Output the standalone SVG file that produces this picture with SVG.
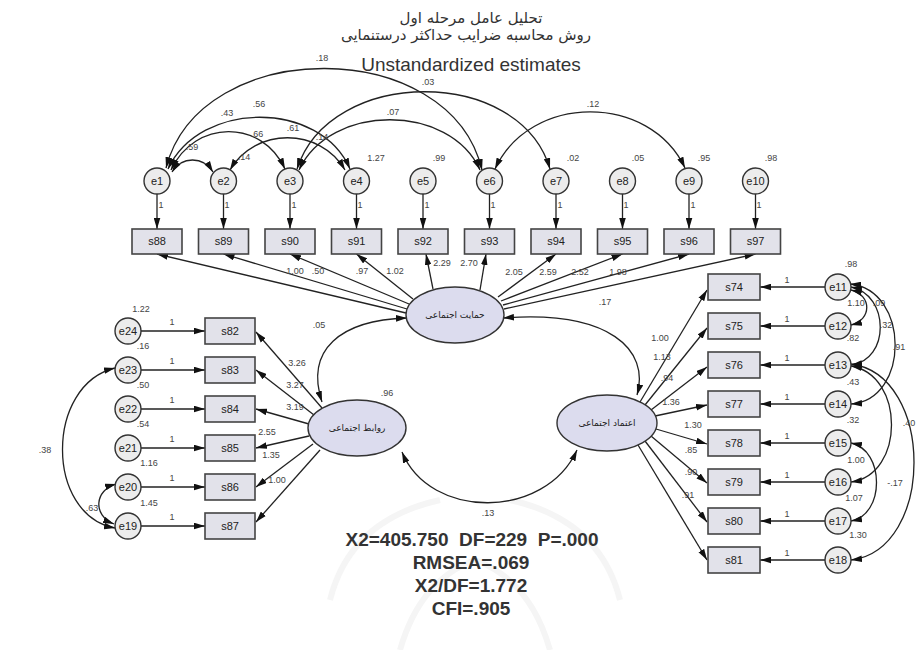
<svg xmlns="http://www.w3.org/2000/svg" width="923" height="650" viewBox="0 0 923 650">
<defs>
<marker id="ah" viewBox="0 0 10 6" refX="10" refY="3" markerWidth="11" markerHeight="7" markerUnits="userSpaceOnUse" orient="auto-start-reverse"><path d="M0,0 L10,3 L0,6 z" fill="#111"/></marker>
</defs>
<style>
.box{fill:#e2e2ea;stroke:#444;stroke-width:1.6}
.err{fill:#ececec;stroke:#333;stroke-width:1.4}
.lat{fill:#dcdcee;stroke:#333;stroke-width:1.4}
.lbl{font-family:"Liberation Sans",Arial,sans-serif;font-size:11px;fill:#222;text-anchor:middle}
.num{font-family:"Liberation Sans",Arial,sans-serif;font-size:9px;fill:#444;text-anchor:middle}
.ar{font-family:"DejaVu Sans","Noto Sans",sans-serif;font-size:9px;fill:#222;text-anchor:middle}
.ln{stroke:#222;stroke-width:1.3;fill:none;marker-end:url(#ah)}
.cv{stroke:#222;stroke-width:1.3;fill:none;marker-start:url(#ah);marker-end:url(#ah)}
.ttl{font-family:"DejaVu Sans","Noto Sans",sans-serif;font-size:15px;fill:#333;text-anchor:middle}
.st{font-family:"Liberation Sans",Arial,sans-serif;font-size:19px;font-weight:bold;fill:#333;text-anchor:middle;white-space:pre}
</style>
<rect width="923" height="650" fill="#fff"/>
<g id="watermark" fill="none" stroke="#f5f5f5" stroke-width="6">
<path d="M330,600 Q350,520 440,500"/><path d="M620,600 Q600,520 510,500"/><path d="M400,650 Q420,580 475,560 Q530,580 550,650"/>
</g>
<g id="title">
<text class="ttl" x="471" y="23">تحلیل عامل مرحله اول</text>
<text class="ttl" x="466" y="40">روش محاسبه ضرایب حداکثر درستنمایی</text>
<text x="471" y="71" font-family="Liberation Sans, Arial, sans-serif" font-size="19" fill="#333" text-anchor="middle">Unstandardized estimates</text>
</g>
<g id="connectors">
<path class="ln" d="M157,194 V229"/><path class="ln" d="M223.5,194 V229"/><path class="ln" d="M290,194 V229"/><path class="ln" d="M356.5,194 V229"/><path class="ln" d="M423,194 V229"/><path class="ln" d="M489.5,194 V229"/><path class="ln" d="M556,194 V229"/><path class="ln" d="M622.5,194 V229"/><path class="ln" d="M689,194 V229"/><path class="ln" d="M755.5,194 V229"/>
<path class="ln" d="M406,313 L157,254"/><path class="ln" d="M407,309 L223.5,254"/><path class="ln" d="M409,304 L290,254"/><path class="ln" d="M413,299 L356.5,254"/><path class="ln" d="M433,289 L426,254"/><path class="ln" d="M480,290 L486,254"/><path class="ln" d="M498,297 L556,254"/><path class="ln" d="M501,301 L622.5,254"/><path class="ln" d="M503,305 L689,254"/><path class="ln" d="M504,309 L755.5,254"/>
<path class="ln" d="M141,331 H205"/><path class="ln" d="M141,370 H205"/><path class="ln" d="M141,409 H205"/><path class="ln" d="M141,448 H205"/><path class="ln" d="M141,487 H205"/><path class="ln" d="M141,526 H205"/>
<path class="ln" d="M322,408 L256,332"/><path class="ln" d="M314,415 L256,370"/><path class="ln" d="M309,424 L256,409"/><path class="ln" d="M309,436 L256,448"/><path class="ln" d="M313,444 L256,487"/><path class="ln" d="M320,450 L256,522"/>
<path class="ln" d="M825,287 H760"/><path class="ln" d="M825,326 H760"/><path class="ln" d="M825,365 H760"/><path class="ln" d="M825,404 H760"/><path class="ln" d="M825,443 H760"/><path class="ln" d="M825,482 H760"/><path class="ln" d="M825,521 H760"/><path class="ln" d="M825,560 H760"/>
<path class="ln" d="M640,402 L707,290"/><path class="ln" d="M645,405 L707,328"/><path class="ln" d="M651,410 L707,367"/><path class="ln" d="M655,416 L707,405"/><path class="ln" d="M656,429 L707,444"/><path class="ln" d="M651,436 L707,483"/><path class="ln" d="M645,441 L707,522"/><path class="ln" d="M638,445 L707,560"/>
<path class="cv" d="M407,318 C340,320 305,350 322,402"/>
<path class="cv" d="M503,318 C610,310 650,350 637,395"/>
<path class="cv" d="M402,452 C430,520 545,520 577,450"/>
<path class="cv" d="M166,168 C200,35 450,35 482,170"/>
<path class="cv" d="M297,169 C330,66 520,66 550,169"/>
<path class="cv" d="M299,170 C330,103 450,103 480,170"/>
<path class="cv" d="M168,169 C200,100 320,100 350,169"/>
<path class="cv" d="M171,170 C195,119 262,119 285,169"/>
<path class="cv" d="M230,170 C255,127 320,127 345,170"/>
<path class="cv" d="M172,172 C182,156 203,156 213,172"/>
<path class="cv" d="M495,169 C530,93 650,93 685,168"/>
<path class="cv" d="M115,368 C45,385 45,515 115,528"/>
<path class="cv" d="M116,484 C95,490 92,515 114,524"/>
<path class="cv" d="M851,290 C872,295 872,320 851,325"/>
<path class="cv" d="M851,287 C890,295 890,360 851,365"/>
<path class="cv" d="M850,284 C910,290 910,400 851,404"/>
<path class="cv" d="M851,366 C905,375 905,475 851,482"/>
<path class="cv" d="M851,364 C935,375 935,550 851,560"/>
<path class="cv" d="M851,443 C885,450 885,515 851,521"/>
</g>
<g id="labels">
<text class="num" x="161" y="208">1</text><text class="num" x="227" y="208">1</text><text class="num" x="294" y="208">1</text><text class="num" x="360" y="208">1</text><text class="num" x="427" y="208">1</text><text class="num" x="493" y="208">1</text><text class="num" x="560" y="208">1</text><text class="num" x="626" y="208">1</text><text class="num" x="693" y="208">1</text><text class="num" x="759" y="208">1</text>
<text class="num" x="295" y="274">1.00</text><text class="num" x="318" y="274">.50</text><text class="num" x="362" y="274">.97</text><text class="num" x="395" y="274">1.02</text><text class="num" x="442" y="266">2.29</text><text class="num" x="469" y="266">2.70</text><text class="num" x="514" y="275">2.05</text><text class="num" x="548" y="275">2.59</text><text class="num" x="580" y="275">2.52</text><text class="num" x="618" y="275">1.98</text>
<text class="num" x="172" y="325">1</text><text class="num" x="172" y="364">1</text><text class="num" x="172" y="403">1</text><text class="num" x="172" y="442">1</text><text class="num" x="172" y="481">1</text><text class="num" x="172" y="520">1</text>
<text class="num" x="297" y="366">3.26</text><text class="num" x="295" y="388">3.27</text><text class="num" x="295" y="410">3.19</text><text class="num" x="267" y="435">2.55</text><text class="num" x="271" y="458">1.35</text><text class="num" x="277" y="483">1.00</text>
<text class="num" x="787" y="283">1</text><text class="num" x="787" y="322">1</text><text class="num" x="787" y="361">1</text><text class="num" x="787" y="400">1</text><text class="num" x="787" y="439">1</text><text class="num" x="787" y="478">1</text><text class="num" x="787" y="517">1</text><text class="num" x="787" y="556">1</text>
<text class="num" x="660" y="341">1.00</text><text class="num" x="662" y="360">1.13</text><text class="num" x="667" y="381">.94</text><text class="num" x="671" y="405">1.36</text><text class="num" x="693" y="428">1.30</text><text class="num" x="691" y="453">.85</text><text class="num" x="691" y="475">.90</text><text class="num" x="688" y="498">.91</text>
<text class="num" x="319" y="328">.05</text><text class="num" x="605" y="305">.17</text><text class="num" x="488" y="516">.13</text><text class="num" x="387" y="396">.96</text>
<text class="num" x="322" y="61">.18</text><text class="num" x="428" y="85">.03</text><text class="num" x="393" y="115">.07</text><text class="num" x="227" y="116">.43</text><text class="num" x="259" y="107" fill="#999">.56</text><text class="num" x="257" y="137">.66</text><text class="num" x="293" y="131">.61</text><text class="num" x="192" y="150">.59</text><text class="num" x="244" y="160">.14</text><text class="num" x="322" y="140">.14</text><text class="num" x="593" y="107">.12</text>
<text class="num" x="376" y="161">1.27</text><text class="num" x="439" y="161">.99</text><text class="num" x="573" y="161">.02</text><text class="num" x="638" y="161">.05</text><text class="num" x="704" y="161">.95</text><text class="num" x="771" y="161">.98</text>
<text class="num" x="141" y="312">1.22</text><text class="num" x="143" y="349">.16</text><text class="num" x="143" y="388">.50</text><text class="num" x="143" y="427">.54</text><text class="num" x="149" y="466">1.16</text><text class="num" x="149" y="506">1.45</text>
<text class="num" x="45" y="453">.38</text><text class="num" x="92" y="511">.63</text>
<text class="num" x="851" y="267">.98</text><text class="num" x="856" y="306">1.10</text><text class="num" x="879" y="306">.09</text><text class="num" x="853" y="341">.82</text><text class="num" x="886" y="328">.32</text><text class="num" x="899" y="350">.91</text><text class="num" x="853" y="385">.43</text><text class="num" x="853" y="423">.32</text><text class="num" x="909" y="426">.40</text><text class="num" x="856" y="463">1.00</text><text class="num" x="854" y="501">1.07</text><text class="num" x="895" y="486">-.17</text><text class="num" x="858" y="538">1.30</text>
</g>
<g id="n-e1"><circle class="err" cx="157" cy="181" r="13"/><text class="lbl" x="157" y="185">e1</text></g>
<g id="n-e2"><circle class="err" cx="223.5" cy="181" r="13"/><text class="lbl" x="223.5" y="185">e2</text></g>
<g id="n-e3"><circle class="err" cx="290" cy="181" r="13"/><text class="lbl" x="290" y="185">e3</text></g>
<g id="n-e4"><circle class="err" cx="356.5" cy="181" r="13"/><text class="lbl" x="356.5" y="185">e4</text></g>
<g id="n-e5"><circle class="err" cx="423" cy="181" r="13"/><text class="lbl" x="423" y="185">e5</text></g>
<g id="n-e6"><circle class="err" cx="489.5" cy="181" r="13"/><text class="lbl" x="489.5" y="185">e6</text></g>
<g id="n-e7"><circle class="err" cx="556" cy="181" r="13"/><text class="lbl" x="556" y="185">e7</text></g>
<g id="n-e8"><circle class="err" cx="622.5" cy="181" r="13"/><text class="lbl" x="622.5" y="185">e8</text></g>
<g id="n-e9"><circle class="err" cx="689" cy="181" r="13"/><text class="lbl" x="689" y="185">e9</text></g>
<g id="n-e10"><circle class="err" cx="755.5" cy="181" r="13"/><text class="lbl" x="755.5" y="185">e10</text></g>
<g id="n-s88"><rect class="box" x="132" y="229" width="50" height="25"/><text class="lbl" x="157" y="245">s88</text></g>
<g id="n-s89"><rect class="box" x="198.5" y="229" width="50" height="25"/><text class="lbl" x="223.5" y="245">s89</text></g>
<g id="n-s90"><rect class="box" x="265" y="229" width="50" height="25"/><text class="lbl" x="290" y="245">s90</text></g>
<g id="n-s91"><rect class="box" x="331.5" y="229" width="50" height="25"/><text class="lbl" x="356.5" y="245">s91</text></g>
<g id="n-s92"><rect class="box" x="398" y="229" width="50" height="25"/><text class="lbl" x="423" y="245">s92</text></g>
<g id="n-s93"><rect class="box" x="464.5" y="229" width="50" height="25"/><text class="lbl" x="489.5" y="245">s93</text></g>
<g id="n-s94"><rect class="box" x="531" y="229" width="50" height="25"/><text class="lbl" x="556" y="245">s94</text></g>
<g id="n-s95"><rect class="box" x="597.5" y="229" width="50" height="25"/><text class="lbl" x="622.5" y="245">s95</text></g>
<g id="n-s96"><rect class="box" x="664" y="229" width="50" height="25"/><text class="lbl" x="689" y="245">s96</text></g>
<g id="n-s97"><rect class="box" x="730.5" y="229" width="50" height="25"/><text class="lbl" x="755.5" y="245">s97</text></g>
<g id="n-e24"><circle class="err" cx="128" cy="331" r="13"/><text class="lbl" x="128" y="335">e24</text></g>
<g id="n-e23"><circle class="err" cx="128" cy="370" r="13"/><text class="lbl" x="128" y="374">e23</text></g>
<g id="n-e22"><circle class="err" cx="128" cy="409" r="13"/><text class="lbl" x="128" y="413">e22</text></g>
<g id="n-e21"><circle class="err" cx="128" cy="448" r="13"/><text class="lbl" x="128" y="452">e21</text></g>
<g id="n-e20"><circle class="err" cx="128" cy="487" r="13"/><text class="lbl" x="128" y="491">e20</text></g>
<g id="n-e19"><circle class="err" cx="128" cy="526" r="13"/><text class="lbl" x="128" y="530">e19</text></g>
<g id="n-s82"><rect class="box" x="205" y="318" width="50" height="26"/><text class="lbl" x="230" y="335">s82</text></g>
<g id="n-s83"><rect class="box" x="205" y="357" width="50" height="26"/><text class="lbl" x="230" y="374">s83</text></g>
<g id="n-s84"><rect class="box" x="205" y="396" width="50" height="26"/><text class="lbl" x="230" y="413">s84</text></g>
<g id="n-s85"><rect class="box" x="205" y="435" width="50" height="26"/><text class="lbl" x="230" y="452">s85</text></g>
<g id="n-s86"><rect class="box" x="205" y="474" width="50" height="26"/><text class="lbl" x="230" y="491">s86</text></g>
<g id="n-s87"><rect class="box" x="205" y="513" width="50" height="26"/><text class="lbl" x="230" y="530">s87</text></g>
<g id="n-s74"><rect class="box" x="708" y="274" width="52" height="26"/><text class="lbl" x="734" y="291">s74</text></g>
<g id="n-s75"><rect class="box" x="708" y="313" width="52" height="26"/><text class="lbl" x="734" y="330">s75</text></g>
<g id="n-s76"><rect class="box" x="708" y="352" width="52" height="26"/><text class="lbl" x="734" y="369">s76</text></g>
<g id="n-s77"><rect class="box" x="708" y="391" width="52" height="26"/><text class="lbl" x="734" y="408">s77</text></g>
<g id="n-s78"><rect class="box" x="708" y="430" width="52" height="26"/><text class="lbl" x="734" y="447">s78</text></g>
<g id="n-s79"><rect class="box" x="708" y="469" width="52" height="26"/><text class="lbl" x="734" y="486">s79</text></g>
<g id="n-s80"><rect class="box" x="708" y="508" width="52" height="26"/><text class="lbl" x="734" y="525">s80</text></g>
<g id="n-s81"><rect class="box" x="708" y="547" width="52" height="26"/><text class="lbl" x="734" y="564">s81</text></g>
<g id="n-e11"><circle class="err" cx="838" cy="287" r="13"/><text class="lbl" x="838" y="291">e11</text></g>
<g id="n-e12"><circle class="err" cx="838" cy="326" r="13"/><text class="lbl" x="838" y="330">e12</text></g>
<g id="n-e13"><circle class="err" cx="838" cy="365" r="13"/><text class="lbl" x="838" y="369">e13</text></g>
<g id="n-e14"><circle class="err" cx="838" cy="404" r="13"/><text class="lbl" x="838" y="408">e14</text></g>
<g id="n-e15"><circle class="err" cx="838" cy="443" r="13"/><text class="lbl" x="838" y="447">e15</text></g>
<g id="n-e16"><circle class="err" cx="838" cy="482" r="13"/><text class="lbl" x="838" y="486">e16</text></g>
<g id="n-e17"><circle class="err" cx="838" cy="521" r="13"/><text class="lbl" x="838" y="525">e17</text></g>
<g id="n-e18"><circle class="err" cx="838" cy="560" r="13"/><text class="lbl" x="838" y="564">e18</text></g>
<g id="n-F1"><ellipse class="lat" cx="455" cy="315" rx="49" ry="28"/><text class="ar" x="455" y="318">حمایت اجتماعی</text></g>
<g id="n-F2"><ellipse class="lat" cx="357" cy="428" rx="49" ry="28"/><text class="ar" x="357" y="431">روابط اجتماعی</text></g>
<g id="n-F3"><ellipse class="lat" cx="607" cy="423" rx="50" ry="28"/><text class="ar" x="607" y="426">اعتماد اجتماعی</text></g>
<g id="stats">
<text class="st" x="472" y="546">X2=405.750  DF=229  P=.000</text>
<text class="st" x="471" y="569">RMSEA=.069</text>
<text class="st" x="471" y="592">X2/DF=1.772</text>
<text class="st" x="471" y="615">CFI=.905</text>
</g>
</svg>
